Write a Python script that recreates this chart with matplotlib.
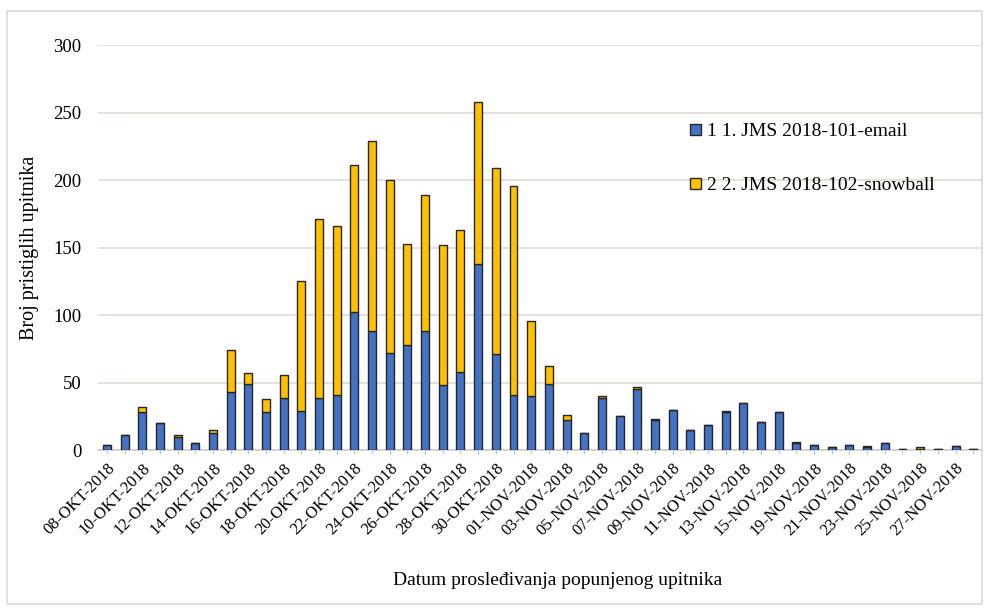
import numpy as np
import matplotlib
matplotlib.use("Agg")
import matplotlib.pyplot as plt
from matplotlib.patches import Rectangle

# category dates (only days with answers)
dates = (
    [f"{d:02d}-OKT-2018" for d in range(8, 32)]
    + [f"{d:02d}-NOV-2018" for d in range(1, 16)]
    + ["17-NOV-2018"]
    + [f"{d:02d}-NOV-2018" for d in range(19, 29)]
)

email = [4, 11, 28, 20, 10, 5, 13, 43, 49, 28, 39, 29, 39, 41, 102, 88, 72, 78,
         88, 48, 58, 138, 71, 41, 40, 49, 22, 13, 39, 25, 45, 22, 30, 15, 19, 28,
         35, 21, 28, 5, 4, 2, 4, 2, 5, 1, 1, 1, 3, 1]
snowball = [0, 0, 4, 0, 1, 0, 2, 31, 8, 10, 17, 96, 132, 125, 109, 141, 128, 75,
            101, 104, 105, 120, 138, 155, 56, 13, 4, 0, 1, 0, 2, 1, 0, 0, 0, 1,
            0, 0, 0, 1, 0, 0, 0, 1, 0, 0, 1, 0, 0, 0]

series_names = ["1 1. JMS 2018-101-email", "2 2. JMS 2018-102-snowball"]

plt.rcParams['font.family'] = ['Liberation Serif', 'DejaVu Serif']

fig = plt.figure(figsize=(9.85, 6.1), dpi=100)
ax = fig.add_axes([0.0995, 0.262, 0.8975, 0.664])

x = np.arange(len(dates))
w = 0.45
ax.bar(x, email, w, color='#4472C4', edgecolor='#262626', linewidth=1.0,
       label=series_names[0], zorder=3)
ax.bar(x, snowball, w, bottom=email, color='#FFC000', edgecolor='#262626',
       linewidth=1.0, label=series_names[1], zorder=3)

ax.set_xlim(-0.5, len(dates) - 0.5)
ax.set_ylim(0, 300)
ax.set_yticks(range(0, 301, 50))
ax.yaxis.grid(True, color='#e3ddd8', linewidth=1.3, zorder=0)
ax.tick_params(axis='y', length=0, pad=12, labelsize=13.5)

ax.set_xticks(x)
ax.set_xticklabels([d if i % 2 == 0 else "" for i, d in enumerate(dates)],
                   rotation=45, ha='right', va='top', rotation_mode='anchor',
                   fontsize=12)
ax.tick_params(axis='x', length=3, color='#b4c7e7', pad=4)

for s in ['top', 'right', 'left']:
    ax.spines[s].set_visible(False)
ax.spines['bottom'].set_color('#d0ccc8')
ax.spines['bottom'].set_linewidth(1.2)

ax.set_ylabel("Broj pristiglih upitnika", fontsize=14.5, labelpad=10)
fig.text(0.566, 0.049, "Datum prosleđivanja popunjenog upitnika",
         ha='center', va='center', fontsize=14)

leg = ax.legend(loc='upper left', bbox_to_anchor=(0.65, 0.85), frameon=False,
                fontsize=14, handlelength=0.55, handleheight=0.55,
                handletextpad=0.3, labelspacing=1.9)

fig.patches.append(Rectangle((7 / 985, 6 / 610), 975 / 985, 593 / 610,
                             transform=fig.transFigure, fill=False,
                             edgecolor='#d9d9d9', linewidth=1.2))

fig.savefig("out.png", dpi=100, facecolor='white')
